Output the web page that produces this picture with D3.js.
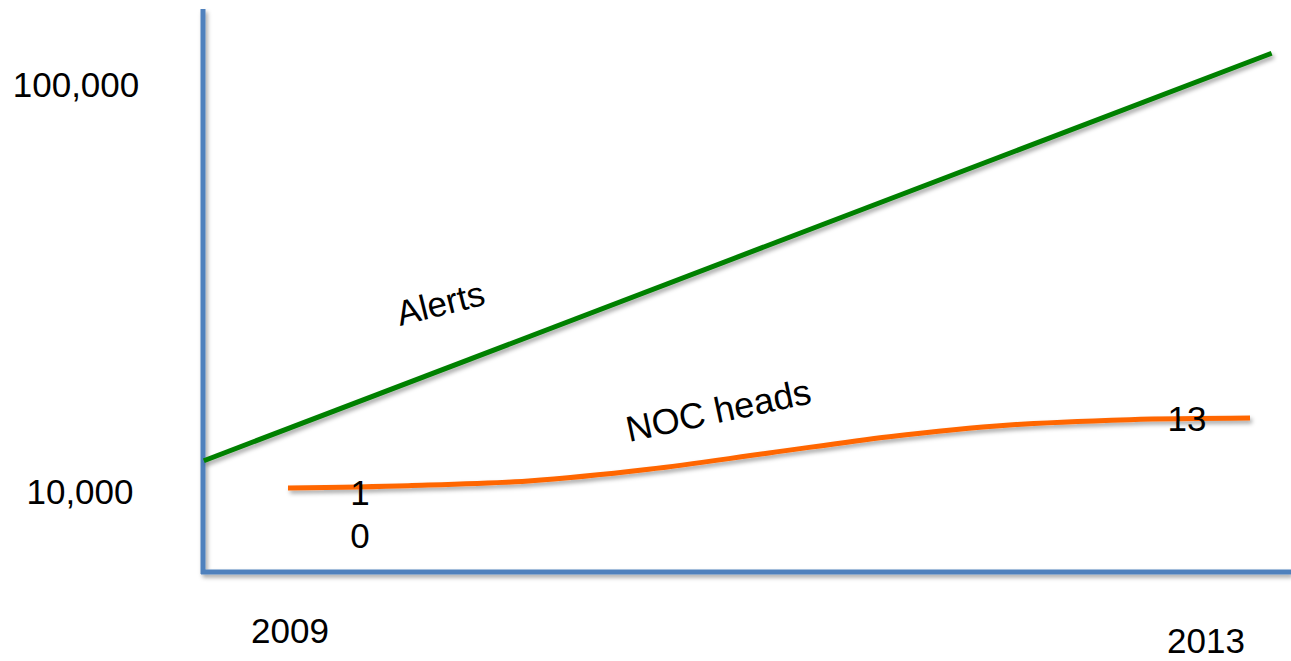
<!DOCTYPE html>
<html>
<head>
<meta charset="utf-8">
<script src="https://cdn.jsdelivr.net/npm/d3@7"></script>
<style>
  html, body { margin: 0; padding: 0; background: #fff; }
  svg { display: block; font-family: "Liberation Sans", Arial, sans-serif; }
</style>
</head>
<body>
<svg id="chart" width="1291" height="661"></svg>
<script>
// ---- data ----
const alertYears = [2008.65, 2013.09];
const alertValues = [11900, 119000];

const headYears = [2009, 2009.5, 2010, 2010.5, 2011, 2011.5, 2012, 2012.5, 2013];
const headValues = [10, 10.1, 10.3, 10.8, 11.5, 12.2, 12.7, 12.93, 13];

const yTickValues = [10000, 100000];
const yTickLabels = ["10,000", "100,000"];
const xTickYears = [2009, 2013];
const xTickLabels = ["2009", "2013"];

const headLabelValues = ["10", "13"];

// ---- scales ----
const svg = d3.select("#chart");
const x = d3.scaleLinear().domain([2009, 2013]).range([288, 1250]);
const yAlerts = d3.scaleLog().domain([10000, 100000]).range([491.5, 84]);
const yHeads = d3.scaleLinear().domain([10, 13]).range([488, 418]);

const defs = svg.append("defs");
const f = defs.append("filter").attr("id", "shadow")
  .attr("x", "-5%").attr("y", "-20%").attr("width", "110%").attr("height", "140%");
f.append("feDropShadow").attr("dx", 2).attr("dy", 3).attr("stdDeviation", 2)
  .attr("flood-color", "#000").attr("flood-opacity", 0.35);

// ---- axes ----
const axisColor = "#4f81bd";
const axisG = svg.append("g").attr("filter", "url(#shadow)");
axisG.append("line").attr("x1", 203).attr("x2", 203).attr("y1", 9).attr("y2", 574)
  .attr("stroke", axisColor).attr("stroke-width", 5);
axisG.append("line").attr("x1", 201).attr("x2", 1291).attr("y1", 572).attr("y2", 572)
  .attr("stroke", axisColor).attr("stroke-width", 5);

// y tick labels
svg.selectAll(".ytick").data(yTickValues).enter().append("text")
  .attr("class", "ytick")
  .attr("x", (d, i) => i === 0 ? 80 : 76)
  .attr("y", d => yAlerts(d) + 12.5)
  .attr("text-anchor", "middle")
  .attr("font-size", 35)
  .attr("fill", "#000")
  .text((d, i) => yTickLabels[i]);

// x tick labels
const xOffsets = [{dx: 2, y: 643}, {dx: -44, y: 653}];
svg.selectAll(".xtick").data(xTickYears).enter().append("text")
  .attr("class", "xtick")
  .attr("x", (d, i) => x(d) + xOffsets[i].dx)
  .attr("y", (d, i) => xOffsets[i].y)
  .attr("text-anchor", "middle")
  .attr("font-size", 35)
  .attr("fill", "#000")
  .text((d, i) => xTickLabels[i]);

// ---- lines ----
const alertLine = d3.line()
  .x(d => x(d[0])).y(d => yAlerts(d[1]));
svg.append("path")
  .datum(alertYears.map((yr, i) => [yr, alertValues[i]]))
  .attr("d", alertLine)
  .attr("fill", "none")
  .attr("stroke", "#008000")
  .attr("stroke-width", 5)
  .attr("filter", "url(#shadow)");

const headLine = d3.line()
  .x(d => x(d[0])).y(d => yHeads(d[1]))
  .curve(d3.curveCatmullRom.alpha(0.5));
svg.append("path")
  .datum(headYears.map((yr, i) => [yr, headValues[i]]))
  .attr("d", headLine)
  .attr("fill", "none")
  .attr("stroke", "#ff6600")
  .attr("stroke-width", 5)
  .attr("filter", "url(#shadow)");

// ---- value labels ----
// "10" wrapped onto two lines
const lbl10 = svg.append("text")
  .attr("text-anchor", "middle")
  .attr("font-size", 35).attr("fill", "#000");
lbl10.append("tspan").attr("x", 360).attr("y", 505).text(headLabelValues[0][0]);
lbl10.append("tspan").attr("x", 360).attr("y", 548).text(headLabelValues[0][1]);

svg.append("text")
  .attr("x", 1187).attr("y", 431)
  .attr("text-anchor", "middle")
  .attr("font-size", 35).attr("fill", "#000")
  .text(headLabelValues[1]);

// ---- series annotations ----
svg.append("text")
  .attr("transform", "translate(400,326) rotate(-14)")
  .attr("font-size", 35).attr("fill", "#000")
  .text("Alerts");

svg.append("text")
  .attr("transform", "translate(629,442) rotate(-12)")
  .attr("font-size", 36).attr("fill", "#000")
  .text("NOC heads");
</script>
</body>
</html>
